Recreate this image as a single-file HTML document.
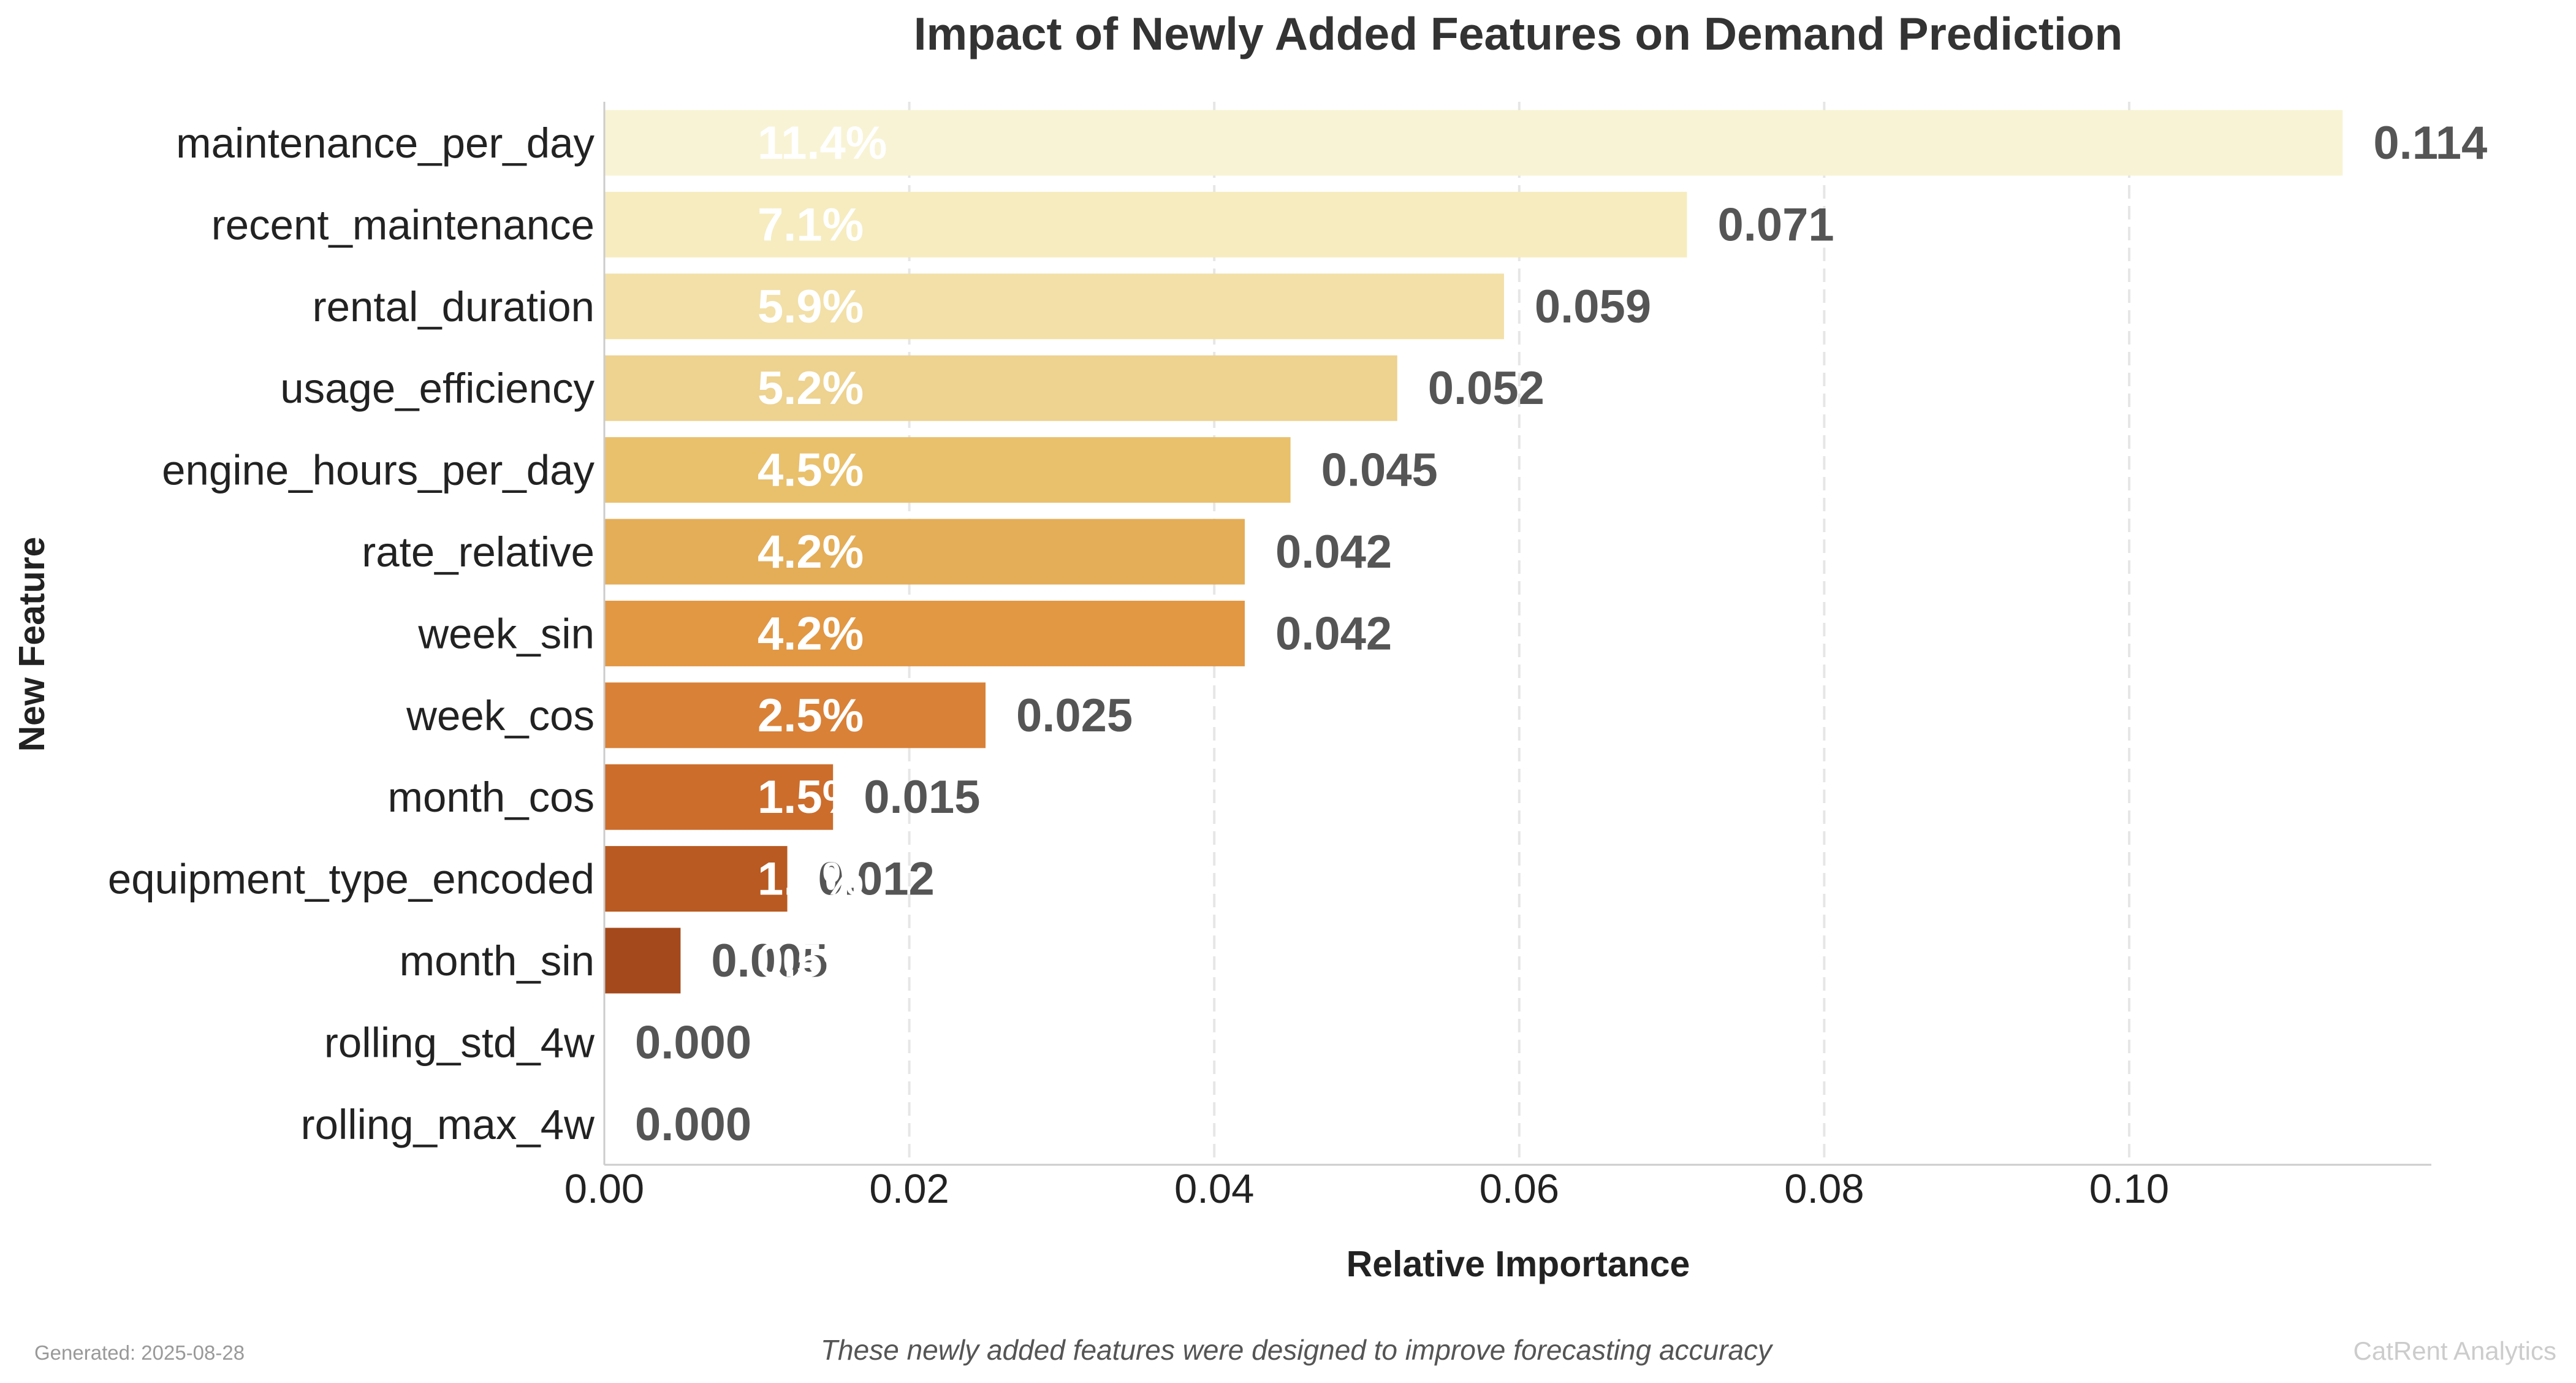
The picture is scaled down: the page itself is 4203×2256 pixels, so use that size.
<!DOCTYPE html>
<html><head><meta charset="utf-8">
<style>
html,body{margin:0;padding:0;background:#fff;}
svg{display:block;font-family:"Liberation Sans",sans-serif;}
</style></head>
<body>
<svg id="chart" width="4203" height="2256" viewBox="0 0 4203 2256" xmlns="http://www.w3.org/2000/svg">
<rect width="4203" height="2256" fill="#fff"/>
<text x="2477" y="81" text-anchor="middle" font-size="75" font-weight="bold" fill="#333">Impact of Newly Added Features on Demand Prediction</text>
<g id="grid"></g>
<g id="bars"></g>
<g id="labels"></g>
<line x1="986" y1="166" x2="986" y2="1900" stroke="#ccc" stroke-width="3"/>
<line x1="986" y1="1900" x2="3967" y2="1900" stroke="#ccc" stroke-width="3"/>
<g id="ticks"></g>
<text x="2477" y="2082" text-anchor="middle" font-size="59" font-weight="bold" fill="#222">Relative Importance</text>
<text transform="translate(72,1051) rotate(-90)" text-anchor="middle" font-size="59" font-weight="bold" fill="#222">New Feature</text>
<text x="56" y="2218" font-size="33" fill="#999">Generated: 2025-08-28</text>
<text x="2115" y="2218" text-anchor="middle" font-size="46" font-style="italic" fill="#555">These newly added features were designed to improve forecasting accuracy</text>
<text x="4171" y="2218" text-anchor="end" font-size="42" fill="#ccc">CatRent Analytics</text>
</svg>
<script>
const categories = ["maintenance_per_day","recent_maintenance","rental_duration","usage_efficiency","engine_hours_per_day","rate_relative","week_sin","week_cos","month_cos","equipment_type_encoded","month_sin","rolling_std_4w","rolling_max_4w"];
const values = [0.114,0.071,0.059,0.052,0.045,0.042,0.042,0.025,0.015,0.012,0.005,0.000,0.000];
const xTicks = [0,0.02,0.04,0.06,0.08,0.10];
const xTickLabels = ["0.00","0.02","0.04","0.06","0.08","0.10"];
const colors = ["#f8f3d4","#f6ecbf","#f2e0a8","#edd290","#e9c06c","#e4ad57","#e29743","#d98137","#cc6d2c","#b85a21","#a4491b","#8c3a16","#7a3214"];

const NS="http://www.w3.org/2000/svg";
const X0=986, PXPER=(3474-986)/0.10;
const xs=v=>X0+v*PXPER;
const Y0=233, STEP=133.4, BH=107;
const ys=i=>Y0+i*STEP;
function mk(tag,attrs,parent,text){const e=document.createElementNS(NS,tag);for(const k in attrs)e.setAttribute(k,attrs[k]);if(text!==undefined)e.textContent=text;document.getElementById(parent).appendChild(e);return e;}

xTicks.forEach((t,i)=>{
  if(i>0){
    const g=mk("line",{x1:xs(t),x2:xs(t),y1:166,y2:1900,stroke:"#e6e6e6","stroke-width":4,"stroke-dasharray":"22,12"},"grid");
    
    
  }
  const tl=mk("text",{x:xs(t),y:1962,"text-anchor":"middle","font-size":67,fill:"#222"},"ticks",xTickLabels[i]);
  
  
});

categories.forEach((c,i)=>{
  const v=values[i], cy=ys(i);
  const b=mk("rect",{x:X0,y:cy-BH/2,width:Math.max(0,xs(v)-X0),height:BH,fill:colors[i]},"bars");
  
  
  const cl=mk("text",{x:970,y:cy+24,"text-anchor":"end","font-size":69,fill:"#222"},"labels",c);
  
  
  const vl=mk("text",{x:xs(v)+50,y:cy+26,"font-size":76,"font-weight":"bold",fill:"#555"},"labels",v.toFixed(3));
  
  
});
categories.forEach((c,i)=>{
  const v=values[i], cy=ys(i);
  if(v>0){
    const pl=mk("text",{x:1236,y:cy+26,"font-size":76,"font-weight":"bold",fill:"#fff"},"labels",(v*100).toFixed(1)+"%");
    
    
  }
});
</script>
</body></html>
